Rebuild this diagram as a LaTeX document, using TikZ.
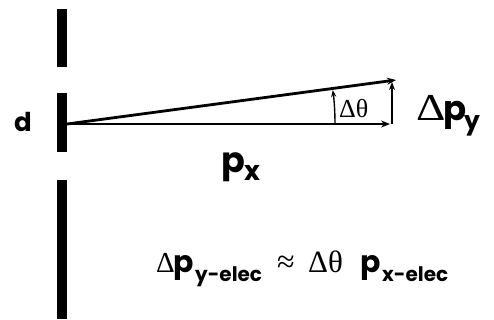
\documentclass[tikz,border=0pt]{standalone}
\usepackage{fontspec}
\setmainfont{Poppins}
\newfontfamily\grk{Liberation Serif}
\usetikzlibrary{arrows.meta}
\begin{document}
\begin{tikzpicture}[x=1pt,y=-1pt,
  arr/.style={line width=2.8pt,-{Stealth[length=9pt,width=7pt]}},
  thinarr/.style={line width=1.4pt,-{Stealth[length=7pt,width=5pt]}},
  lbl/.style={inner sep=0pt,font=\bfseries}]
\useasboundingbox (0,0) rectangle (494,320);
% slit bars
\fill (57,9) rectangle (67,67);
\fill (57,93) rectangle (67,152);
\fill (57,180) rectangle (67,319);
\coordinate (o) at (67,124);
\coordinate (h) at (390,124);
\coordinate (t) at (396,80);
\coordinate (vb) at (392,124);
\coordinate (vt) at (392,82);
\draw[arr] (o) -- (h);
\draw[arr] (o) -- (t);
\draw[line width=2.4pt,-{Stealth[length=8pt,width=6pt]}] (vb) -- (vt);
\draw[thinarr] (335,124) arc[start angle=0,end angle=-7.3,radius=268];
\node[lbl,anchor=base west,font=\bfseries\fontsize{26}{26}\selectfont] (d) at (14,132) {d};
\node[inner sep=0pt,anchor=base west,font=\grk\fontsize{26}{26}\selectfont] (dth) at (339,118) {Δθ};
\node[lbl,anchor=base west] (dpy) at (416,121) {\makebox[27pt][l]{\scalebox{1.2}[1]{\grk\mdseries\fontsize{38}{38}\selectfont Δ}}\makebox[21pt][l]{\fontsize{34}{34}\selectfont p}\raisebox{-9pt}{\fontsize{25}{25}\selectfont y}};
\node[lbl,anchor=base west] (px) at (221,172) {\makebox[23pt][l]{\fontsize{35}{35}\selectfont p}\raisebox{-8pt}{\fontsize{27}{27}\selectfont x}};
\node[lbl,anchor=base west] (eq) at (156,272) {\makebox[17pt][l]{\grk\mdseries\fontsize{29}{29}\selectfont Δ}\makebox[22pt][l]{\fontsize{30}{30}\selectfont p}\makebox[82pt][l]{\raisebox{-9pt}{\fontsize{20}{20}\selectfont y-elec}}\makebox[31pt][l]{\grk\mdseries\fontsize{32}{32}\selectfont ≈}\makebox[52pt][l]{\grk\mdseries\fontsize{31}{31}\selectfont Δθ}\makebox[22pt][l]{\fontsize{30}{30}\selectfont p}\raisebox{-9pt}{\fontsize{20}{20}\selectfont x-elec}};
\end{tikzpicture}
\end{document}
